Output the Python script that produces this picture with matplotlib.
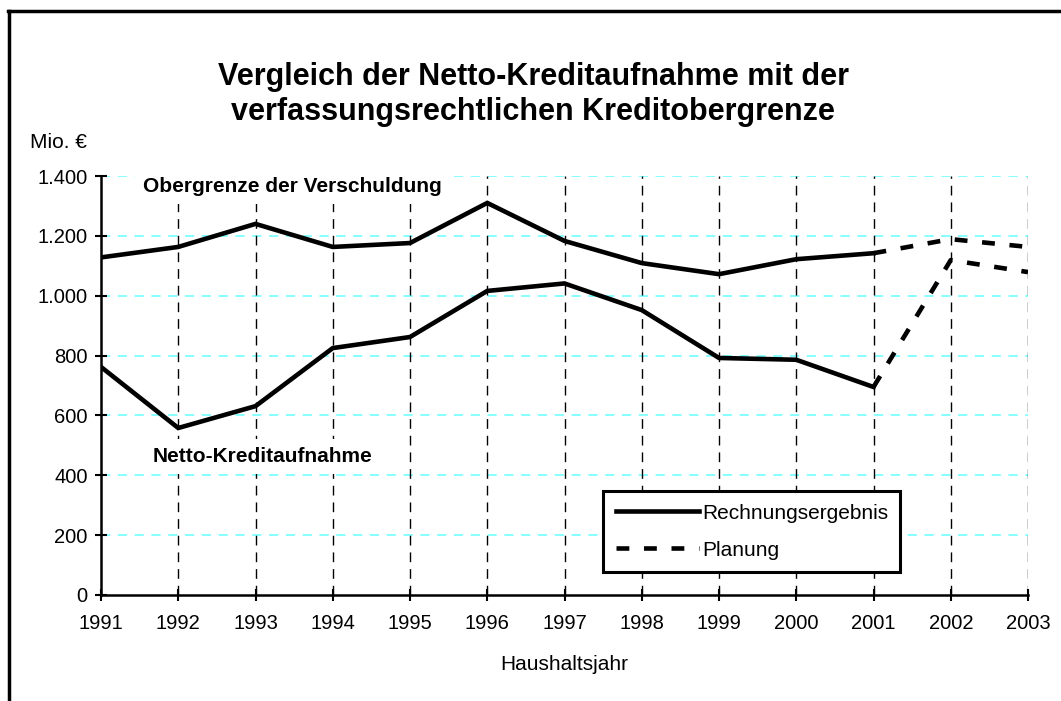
import matplotlib
matplotlib.use("Agg")
import matplotlib.pyplot as plt
from matplotlib.lines import Line2D

plt.rcParams["font.family"] = ["Liberation Sans", "DejaVu Sans"]

# data (Mio. EUR)
years = [1991, 1992, 1993, 1994, 1995, 1996, 1997, 1998, 1999, 2000, 2001]
obergrenze = [1128, 1163, 1240, 1163, 1176, 1310, 1183, 1109, 1072, 1122, 1142]
netto = [762, 558, 631, 825, 862, 1016, 1041, 952, 792, 786, 695]
plan_years = [2001, 2002, 2003]
plan_obergrenze = [1142, 1189, 1163]
plan_netto = [695, 1119, 1079]
all_years = list(range(1991, 2004))
yticks = [0, 200, 400, 600, 800, 1000, 1200, 1400]
ytick_labels = ["0", "200", "400", "600", "800", "1.000", "1.200", "1.400"]

W, H = 1061, 701
fig = plt.figure(figsize=(W / 100, H / 100), dpi=100)
ax = fig.add_axes([101 / W, 1 - 595 / H, (1028 - 101) / W, (595 - 176) / H])

# grid
for yv in yticks[1:]:
    ax.axhline(yv, color="#66ffff", lw=1.1, dashes=(6, 5), zorder=1)
for xv in all_years[1:]:
    ax.axvline(xv, color="black", lw=1.0, dashes=(7, 5), zorder=1)

lw = 3.3
ax.plot(years, obergrenze, color="black", lw=lw, solid_joinstyle="miter", zorder=3)
ax.plot(years, netto, color="black", lw=lw, solid_joinstyle="miter", zorder=3)
ax.plot(plan_years, plan_obergrenze, color="black", lw=lw, dashes=(2.8, 3.2), zorder=3)
ax.plot(plan_years, plan_netto, color="black", lw=lw, dashes=(2.8, 3.2), zorder=3)

fs = 15
ax.set_xlim(1991, 2003)
ax.set_ylim(0, 1400)
ax.set_xticks(all_years)
ax.set_xticklabels([str(y) for y in all_years], fontsize=14.5)
ax.set_yticks(yticks)
ax.set_yticklabels(ytick_labels, fontsize=14.5)
ax.tick_params(direction="inout", length=9, width=1.5, pad=5)
ax.tick_params(axis="x", pad=9)
for s in ["top", "right"]:
    ax.spines[s].set_visible(False)
for s in ["left", "bottom"]:
    ax.spines[s].set_linewidth(1.8)
    ax.spines[s].set_zorder(4)

ax.set_xlabel("Haushaltsjahr", fontsize=fs, labelpad=16)

ax.text(1991.55, 1365, "Obergrenze der Verschuldung", fontsize=fs, fontweight="bold",
        ha="left", va="center", zorder=2,
        bbox=dict(boxstyle="square,pad=0.4", fc="white", ec="none"))
ax.text(1991.67, 463, "Netto-Kreditaufnahme", fontsize=fs, fontweight="bold",
        ha="left", va="center", zorder=2,
        bbox=dict(boxstyle="square,pad=0.4", fc="white", ec="none"))

handles = [Line2D([], [], color="black", lw=lw),
           Line2D([], [], color="black", lw=lw, dashes=(2.8, 3.2))]
leg = ax.legend(handles, ["Rechnungsergebnis", "Planung"], loc="lower left",
                bbox_to_anchor=((603 - 101) / (1028 - 101), (595 - 572) / (595 - 176),
                                (900 - 603) / (1028 - 101), (572 - 492) / (595 - 176)),
                mode="expand", fontsize=fs, handlelength=4.0, handletextpad=0.15,
                borderaxespad=0, fancybox=False, framealpha=1, edgecolor="black",
                borderpad=0.6, labelspacing=0.85)
leg.get_frame().set_linewidth(2.2)
leg.set_zorder(5)

fig.suptitle("Vergleich der Netto-Kreditaufnahme mit der\nverfassungsrechtlichen Kreditobergrenze",
             x=533 / W, y=1 - 62 / H, fontsize=22, fontweight="bold", va="top",
             linespacing=1.2)
fig.text(30 / W, 1 - 143 / H, "Mio. €", fontsize=fs, ha="left", va="center")

# outer frame (left and top edges visible)
fig.add_artist(Line2D([8.5 / W, 8.5 / W], [0, 1 - 11 / H], color="black", lw=2.5,
                      transform=fig.transFigure))
fig.add_artist(Line2D([7.5 / W, 1], [1 - 11 / H, 1 - 11 / H], color="black", lw=2.5,
                      transform=fig.transFigure))

fig.savefig("out.png", dpi=100)
